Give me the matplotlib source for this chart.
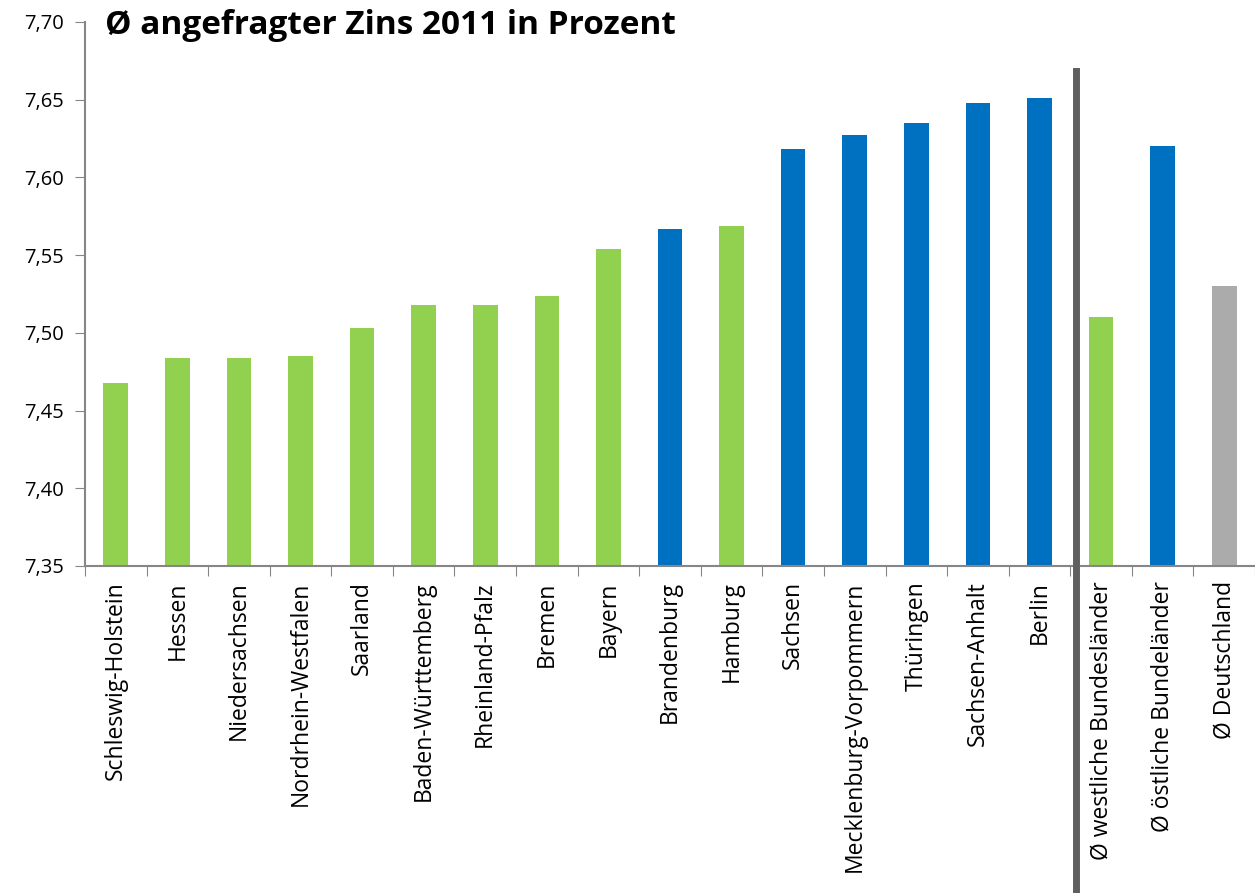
import matplotlib
matplotlib.use('Agg')
import matplotlib.pyplot as plt
import matplotlib.transforms as mtransforms

# ===== Data ===== #

laender = [
    'Schleswig-Holstein', 'Hessen', 'Niedersachsen', 'Nordrhein-Westfalen',
    'Saarland', 'Baden-Württemberg', 'Rheinland-Pfalz', 'Bremen', 'Bayern',
    'Brandenburg', 'Hamburg', 'Sachsen', 'Mecklenburg-Vorpommern',
    'Thüringen', 'Sachsen-Anhalt', 'Berlin',
    'Ø westliche Bundesländer', 'Ø östliche Bundeländer', 'Ø Deutschland',
]
zins = [
    7.468, 7.484, 7.484, 7.485, 7.503, 7.518, 7.518, 7.524, 7.554,
    7.567, 7.569, 7.618, 7.627, 7.635, 7.648, 7.651,
    7.510, 7.620, 7.530,
]
# w = west, o = ost, d = deutschland
gruppe = ['w'] * 9 + ['o', 'w'] + ['o'] * 5 + ['w', 'o', 'd']

y_ticks = [7.35, 7.40, 7.45, 7.50, 7.55, 7.60, 7.65, 7.70]

farben = {'w': '#92D050', 'o': '#0070C0', 'd': '#ABABAB'}

# ===== Plot ===== #

plt.rcParams['font.family'] = ['Open Sans', 'DejaVu Sans']

fig = plt.figure(figsize=(12.55, 8.93), dpi=100)
ax = fig.add_axes([0.0677, 0.3662, 0.9323, 0.6092])

x = list(range(len(laender)))
ax.bar(x, [z - 7.35 for z in zins], bottom=7.35, width=0.4,
       color=[farben[g] for g in gruppe], zorder=2)

ax.set_xlim(-0.5, len(laender) - 0.5)
ax.set_ylim(7.35, 7.70)
ax.set_yticks(y_ticks)
ax.set_yticklabels([('%.2f' % v).replace('.', ',') for v in y_ticks], fontsize=14.5)

# ticks between categories, labels centered
ax.set_xticks([i - 0.5 for i in range(len(laender) + 1)])
ax.set_xticklabels([])
ax.set_xticks(x, minor=True)
ax.set_xticklabels(laender, minor=True, rotation=90, fontsize=16.5,
                   va='top', ha='center')
ax.tick_params(axis='x', which='minor', length=0, pad=11)
ax.tick_params(axis='x', which='major', length=7, direction='out',
               color='#868686')
ax.tick_params(axis='y', length=7, color='#868686', pad=8)

for side in ['top', 'right']:
    ax.spines[side].set_visible(False)
for side in ['left', 'bottom']:
    ax.spines[side].set_color('#868686')
    ax.spines[side].set_linewidth(1.5)

# separator between laender and averages
trans = mtransforms.blended_transform_factory(ax.transData, ax.transAxes)
ax.plot([15.6, 15.6], [-0.602, 0.91], transform=trans, color='#5F5F5F',
        linewidth=5, clip_on=False, zorder=3)

fig.text(0.0837, 0.972, 'Ø angefragter Zins 2011 in Prozent', fontsize=24,
         fontweight='bold', va='center', ha='left')

fig.savefig('out.png', dpi=100)
